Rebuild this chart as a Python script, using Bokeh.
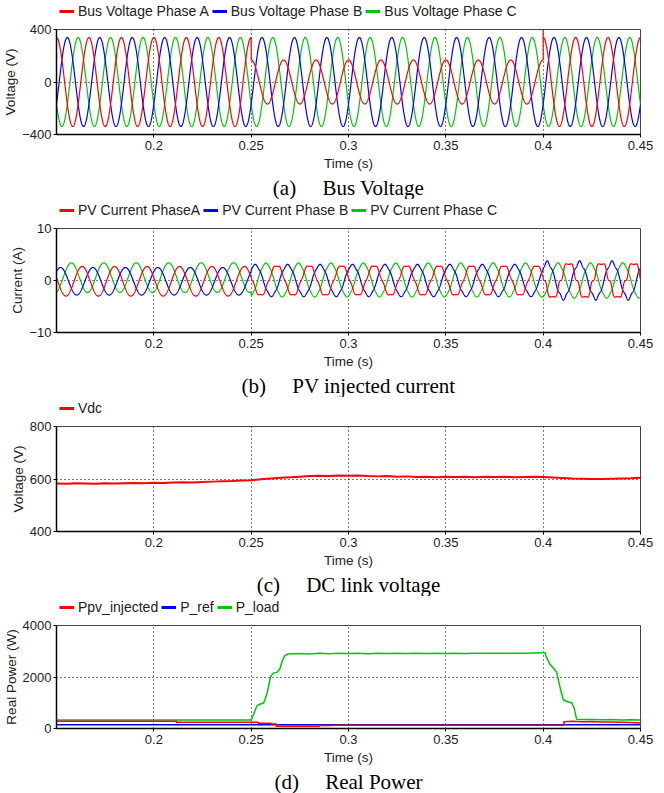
import numpy as np
from bokeh.plotting import figure
from bokeh.layouts import column
from bokeh.models import Legend, LegendItem, FixedTicker, Title, Range1d
from bokeh.embed import file_html
from bokeh.resources import INLINE

# ---------------- data ----------------
x_limits = [0.15, 0.45]
x_ticks = [0.2, 0.25, 0.3, 0.35, 0.4, 0.45]
x_tick_labels = ["0.2", "0.25", "0.3", "0.35", "0.4", "0.45"]

line_freq_hz = 60.0            # 18 cycles visible between 0.15 s and 0.45 s

# (a) bus voltage: crest values (V) per time segment
bus_segments = [0.15, 0.25, 0.40, 0.45]
bus_crest_a = [339, 168, 339]
bus_crest_b = [339, 339, 339]
bus_crest_c = [339, 339, 339]
bus_crest_time_a = 0.15        # instant of a phase-A crest
bus_spike_time = [0.40]
bus_spike_value = [410]

# (b) PV injected currents: crest (A), offset (A), 5th / 7th harmonic (A) per segment
cur_segments = [0.15, 0.25, 0.40, 0.45]
cur_crest_time_a = 0.1465
cur_crest_a = [2.85, 2.9, 3.4]
cur_crest_b = [2.65, 3.0, 3.5]
cur_crest_c = [2.85, 3.2, 3.3]
cur_offset_a = [-0.15, 0.0, 0.0]
cur_offset_b = [-0.15, 0.0, 0.0]
cur_offset_c = [0.55, 0.1, 0.0]
cur_h5_a = [0.0, -0.2, -0.45]
cur_h5_b = [0.0, 0.12, 0.25]
cur_h5_c = [0.0, 0.08, 0.1]
cur_h7_a = [0.0, 0.0, 0.15]
cur_h7_b = [0.0, 0.0, 0.05]
cur_h7_c = [0.0, 0.0, 0.0]

# (c) DC link voltage (V), sampled every 5 ms from 0.15 s to 0.45 s
vdc_values = [583, 582, 584, 583, 582, 584, 583, 584, 585, 584,
              586, 585, 587, 588, 587, 589, 590, 591, 592, 594,
              595, 599, 602, 605, 607, 609, 611, 612, 611, 613,
              612, 613, 611, 610, 611, 609, 610, 608, 609, 607,
              609, 608, 609, 607, 609, 608, 609, 607, 608, 609,
              608, 606, 604, 602, 601, 600, 600, 601, 602, 603,
              605]

# (d) real power (W)
pload_t = [0.15, 0.25, 0.2512, 0.2530, 0.2547, 0.2564, 0.2582, 0.2599, 0.2613, 0.2634,
           0.2648, 0.2660, 0.2672, 0.2686, 0.275, 0.28, 0.285, 0.29, 0.295, 0.30,
           0.305, 0.31, 0.315, 0.32, 0.325, 0.33, 0.335, 0.34, 0.345, 0.35,
           0.355, 0.36, 0.365, 0.37, 0.38, 0.39, 0.40, 0.4009, 0.4017, 0.4034,
           0.4052, 0.4069, 0.4086, 0.4103, 0.4121, 0.4147, 0.4159, 0.4172, 0.42, 0.425,
           0.43, 0.435, 0.44, 0.445, 0.45]
pload_v = [330, 330, 545, 890, 950, 990, 1370, 2000, 2150, 2190,
           2320, 2630, 2820, 2890, 2910, 2890, 2920, 2900, 2920, 2910,
           2925, 2905, 2920, 2910, 2925, 2915, 2920, 2910, 2920, 2915,
           2925, 2915, 2920, 2920, 2920, 2920, 2940, 2940, 2760, 2500,
           2350, 2190, 1620, 1115, 1050, 990, 800, 355, 345, 350,
           335, 345, 330, 335, 330]
ppv_t = [0.15, 0.2116, 0.2116, 0.25, 0.2535, 0.2535, 0.2603, 0.2603, 0.2629, 0.2629,
         0.2852, 0.2852, 0.2913, 0.2913, 0.4106, 0.4106, 0.415, 0.42, 0.425, 0.43,
         0.435, 0.44, 0.445, 0.45]
ppv_v = [280, 280, 245, 245, 240, 205, 205, 170, 170, 90,
         90, 115, 115, 125, 125, 265, 280, 260, 270, 255,
         250, 245, 230, 215]
pref_t = [0.15, 0.45]
pref_v = [150, 150]

RED, BLUE, GREEN = "#ff0000", "#0000ff", "#00c800"
SANS = "Liberation Sans"
SERIF = "Liberation Serif"
FRAME_LEFT = 56   # frames of a column are aligned by Bokeh


# ---------------- waveform reconstruction from the read parameters ----------------
def phase_wave(edges, crest, offset, h5, h7, t_crest, inserts=None, step=0.0001):
    w = 2 * np.pi * line_freq_hz
    ts, vs = [], []
    for k in range(len(edges) - 1):
        n = int(round((edges[k + 1] - edges[k]) / step)) + 1
        t = np.linspace(edges[k], edges[k + 1], n)
        th = w * (t - t_crest)
        v = offset[k] + crest[k] * np.cos(th) + h5[k] * np.cos(5 * th) + h7[k] * np.cos(7 * th)
        if inserts:
            for ti, vi in inserts:
                if abs(ti - edges[k]) < 1e-9:
                    t = np.concatenate([[ti], t])
                    v = np.concatenate([[vi], v])
        ts.append(t)
        vs.append(v)
    return np.concatenate(ts), np.concatenate(vs)


period = 1.0 / line_freq_hz
zeros3 = [0.0, 0.0, 0.0]
bus_a = phase_wave(bus_segments, bus_crest_a, zeros3, zeros3, zeros3, bus_crest_time_a,
                   inserts=list(zip(bus_spike_time, bus_spike_value)))
bus_b = phase_wave(bus_segments, bus_crest_b, zeros3, zeros3, zeros3, bus_crest_time_a + period / 3)
bus_c = phase_wave(bus_segments, bus_crest_c, zeros3, zeros3, zeros3, bus_crest_time_a + 2 * period / 3)

cur_a = phase_wave(cur_segments, cur_crest_a, cur_offset_a, cur_h5_a, cur_h7_a, cur_crest_time_a)
cur_b = phase_wave(cur_segments, cur_crest_b, cur_offset_b, cur_h5_b, cur_h7_b, cur_crest_time_a + period / 3)
cur_c = phase_wave(cur_segments, cur_crest_c, cur_offset_c, cur_h5_c, cur_h7_c, cur_crest_time_a + 2 * period / 3)

vdc_t = np.linspace(0.15, 0.45, len(vdc_values))


# ---------------- legend strip (own small figure above each panel) ----------------
def make_legend(labels, colors):
    lf = figure(width=664, height=21, title=None, x_range=Range1d(0, 1), y_range=Range1d(0, 1),
                x_axis_location=None, y_axis_location=None,
                output_backend="svg", toolbar_location=None,
                min_border_left=FRAME_LEFT, min_border_right=24,
                min_border_top=0, min_border_bottom=0)
    lf.grid.visible = False
    lf.outline_line_color = None
    lf.background_fill_color = "white"
    lf.border_fill_color = "white"
    # legend key renderers: a single sample kept outside this strip's visible range
    keys = [lf.line([-1, -2], [-1, -2], color=c, line_width=3) for c in colors]
    items = [LegendItem(label=lab, renderers=[r]) for lab, r in zip(labels, keys)]
    leg = Legend(items=items, location="top_left", orientation="horizontal",
                 glyph_width=15, glyph_height=12, label_height=12, label_standoff=4,
                 spacing=3, padding=3, margin=0,
                 border_line_alpha=0, background_fill_alpha=0,
                 label_text_font=SANS, label_text_font_size="14px",
                 label_text_color="#222222")
    lf.add_layout(leg, "center")
    return lf


# ---------------- panel builder ----------------
def make_panel(height, bottom, y_lim, y_ticks, y_label, caption):
    p = figure(width=664, height=height, title=None,
               x_range=Range1d(*x_limits), y_range=Range1d(*y_lim),
               output_backend="svg", toolbar_location=None,
               min_border_left=FRAME_LEFT, min_border_right=24,
               min_border_top=8, min_border_bottom=bottom)
    xt = FixedTicker(ticks=x_ticks)
    yt = FixedTicker(ticks=y_ticks)
    p.xaxis.ticker = xt
    p.xgrid.ticker = xt
    p.yaxis.ticker = yt
    p.ygrid.ticker = yt
    p.xaxis.major_label_overrides = {t: s for t, s in zip(x_ticks, x_tick_labels)}
    for ax in (p.xaxis, p.yaxis):
        ax.major_tick_in = 0
        ax.major_tick_out = 3
        ax.minor_tick_line_color = None
        ax.axis_line_color = "black"
        ax.axis_line_width = 1.5
        ax.major_tick_line_color = "black"
        ax.major_label_text_font = SANS
        ax.major_label_text_font_size = "13px"
        ax.major_label_text_color = "#222222"
        ax.axis_label_text_font = SANS
        ax.axis_label_text_font_size = "13.5px"
        ax.axis_label_text_font_style = "normal"
        ax.axis_label_text_color = "#222222"
    p.xaxis.major_label_standoff = 3
    p.xaxis.axis_label_standoff = 3
    p.yaxis.major_label_standoff = 2
    p.yaxis.axis_label_standoff = 1
    p.xaxis.axis_label = "Time (s)"
    p.yaxis.axis_label = y_label
    for g in (p.xgrid, p.ygrid):
        g.grid_line_color = "black"
        g.grid_line_dash = "1 3"
        g.grid_line_width = 1
    p.outline_line_color = "#444444"
    p.background_fill_color = "white"
    p.border_fill_color = "white"

    cap = Title(text=caption, align="center", text_font=SERIF, text_font_size="21px",
                text_font_style="normal", text_color="black", standoff=0, offset=5)
    p.add_layout(cap, "below")
    return p


NB = "\u00a0" * 5

la = make_legend(["Bus Voltage Phase A", "Bus Voltage Phase B", "Bus Voltage Phase C"],
                 [RED, BLUE, GREEN])
pa = make_panel(178, 64, (-400, 400), [-400, 0, 400], "Voltage (V)",
                "(a)" + NB + "Bus Voltage")
pa.line(bus_c[0], bus_c[1], color=GREEN, line_width=1.2)
pa.line(bus_b[0], bus_b[1], color=BLUE, line_width=1.2)
pa.line(bus_a[0], bus_a[1], color=RED, line_width=1.2)

lb = make_legend(["PV Current PhaseA", "PV Current Phase B", "PV Current Phase C"],
                 [RED, BLUE, GREEN])
pb = make_panel(177, 64, (-10, 10), [-10, 0, 10], "Current (A)",
                "(b)" + NB + "PV injected current")
pb.line(cur_c[0], cur_c[1], color=GREEN, line_width=1.2)
pb.line(cur_b[0], cur_b[1], color=BLUE, line_width=1.2)
pb.line(cur_a[0], cur_a[1], color=RED, line_width=1.2)

lc = make_legend(["Vdc"], [RED])
pc = make_panel(178, 64, (400, 800), [400, 600, 800], "Voltage (V)",
                "(c)" + NB + "DC link voltage")
pc.line(vdc_t, vdc_values, color=RED, line_width=2)

ld = make_legend(["Ppv_injected", "P_ref", "P_load"], [RED, BLUE, GREEN])
pd = make_panel(176, 62, (0, 4000), [0, 2000, 4000], "Real Power (W)",
                "(d)" + NB + "Real Power")
pd.line(pload_t, pload_v, color=GREEN, line_width=1.5)
pd.line(pref_t, pref_v, color=BLUE, line_width=1.5)
pd.line(ppv_t, ppv_v, color=RED, line_width=1.5)

layout = column(la, pa, lb, pb, lc, pc, ld, pd, spacing=0)
open("out.html", "w").write(file_html(layout, INLINE))
